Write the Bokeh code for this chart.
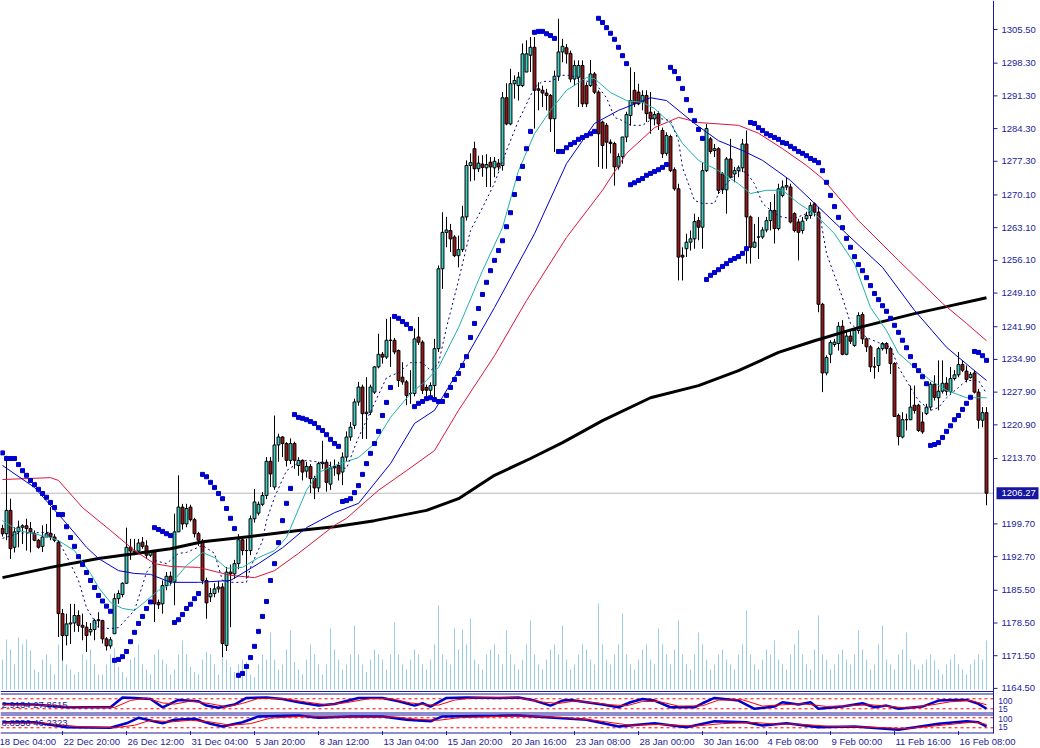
from bokeh.plotting import figure
from bokeh.models import Range1d, ColumnDataSource
from bokeh.core.properties import value
from bokeh.embed import file_html
from bokeh.resources import INLINE

# ---------------- price data (XAUUSD H4), one row per bar ----------------
opens = [1198.7,1197.6,1202.6,1194.7,1198.0,1199.0,1199.3,1198.7,1197.6,1196.2,
1194.9,1196.9,1197.7,1196.9,1195.8,1180.5,1175.8,1178.3,1178.5,1180.1,
1178.0,1177.6,1176.6,1177.1,1179.0,1179.0,1175.1,1173.6,1176.2,1183.7,
1184.6,1187.0,1194.7,1193.9,1193.9,1195.8,1195.0,1193.0,1193.7,1182.9,
1182.6,1186.5,1188.5,1187.3,1198.0,1203.3,1199.7,1203.3,1200.6,1197.6,
1196.0,1187.6,1184.1,1184.8,1185.8,1186.2,1173.7,1189.4,1189.0,1191.2,
1196.3,1194.0,1194.0,1200.8,1202.0,1203.9,1205.8,1213.1,1207.6,1216.6,
1218.3,1216.9,1213.3,1216.9,1212.2,1213.3,1211.0,1212.0,1209.4,1207.4,
1212.6,1212.9,1208.2,1211.7,1212.2,1210.8,1214.0,1218.3,1220.8,1225.8,
1229.0,1223.3,1223.6,1227.9,1233.3,1236.0,1235.4,1239.0,1239.0,1236.8,
1231.1,1230.1,1227.6,1227.6,1239.7,1238.6,1228.9,1228.3,1229.3,1237.2,
1254.3,1262.1,1262.5,1261.1,1257.1,1258.4,1265.4,1276.4,1280.0,1275.7,
1276.7,1275.9,1277.1,1275.9,1276.9,1276.4,1290.9,1285.3,1293.9,1293.5,
1293.5,1296.4,1300.0,1301.7,1292.8,1292.5,1291.9,1291.4,1286.4,1295.5,
1300.7,1301.6,1300.4,1294.9,1295.3,1297.8,1293.5,1293.5,1296.0,1292.1,
1285.7,1285.0,1281.4,1281.1,1276.1,1278.3,1282.5,1287.1,1292.5,1292.1,
1290.0,1291.4,1287.8,1286.4,1287.5,1283.9,1279.0,1282.6,1275.5,1271.4,
1257.2,1258.6,1260.0,1260.7,1264.6,1263.2,1275.3,1282.1,1279.6,1280.0,
1274.6,1271.2,1277.8,1274.6,1275.3,1275.9,1281.0,1265.4,1258.9,1261.1,
1261.1,1262.6,1264.6,1266.8,1262.9,1270.0,1271.8,1271.8,1266.1,1264.3,
1262.5,1265.0,1265.7,1268.2,1266.4,1246.7,1232.0,1236.0,1238.1,1238.3,
1242.0,1236.0,1239.9,1237.9,1241.1,1244.5,1239.3,1237.6,1233.3,1233.6,
1237.2,1238.3,1237.2,1234.0,1222.9,1218.3,1222.0,1222.0,1225.1,1225.1,
1221.5,1223.3,1224.7,1229.6,1226.7,1228.1,1229.8,1228.0,1230.8,1231.6,
1233.8,1232.4,1231.0,1232.0,1227.9,1221.9,1223.5]
highs = [1199.5,1214.3,1205.1,1199.0,1200.4,1199.6,1200.8,1200.1,1198.3,1196.5,
1199.4,1199.7,1203.3,1197.5,1196.2,1181.5,1180.5,1182.6,1182.6,1181.2,
1180.5,1178.7,1178.5,1179.4,1180.8,1179.2,1175.5,1175.5,1184.8,1185.5,
1187.2,1198.9,1196.5,1196.5,1196.5,1196.9,1196.2,1194.0,1194.0,1183.5,
1187.6,1189.4,1189.5,1201.9,1210.1,1204.0,1204.0,1203.8,1201.0,1198.0,
1196.5,1188.2,1186.0,1187.0,1187.5,1187.0,1190.5,1191.0,1192.0,1197.5,
1197.0,1196.5,1201.5,1207.2,1204.5,1206.5,1214.0,1214.0,1222.9,1219.0,
1218.5,1217.2,1218.0,1217.3,1214.0,1213.5,1213.0,1212.5,1210.0,1213.0,
1217.5,1213.5,1213.0,1213.5,1213.0,1215.0,1219.5,1221.5,1226.5,1230.1,
1229.5,1231.1,1229.5,1233.5,1240.4,1236.5,1243.6,1244.0,1239.5,1237.0,
1234.3,1230.5,1232.6,1241.5,1244.0,1239.0,1229.5,1230.0,1239.3,1255.0,
1266.4,1265.4,1263.9,1261.5,1261.4,1267.8,1277.5,1279.0,1281.5,1278.5,
1278.6,1278.8,1278.2,1278.2,1277.8,1292.1,1294.0,1297.1,1295.7,1296.4,
1302.5,1303.2,1303.9,1303.9,1294.2,1293.5,1292.8,1291.7,1296.7,1307.8,
1303.5,1302.4,1301.0,1298.9,1298.9,1298.9,1294.2,1299.0,1296.4,1292.5,
1286.0,1285.5,1282.0,1281.5,1279.0,1282.5,1287.9,1297.4,1296.4,1293.9,
1292.5,1292.5,1292.1,1288.0,1288.0,1284.5,1283.5,1283.0,1276.0,1272.5,
1258.9,1261.8,1262.5,1266.1,1265.4,1277.1,1285.3,1282.5,1281.0,1280.3,
1275.0,1278.2,1282.1,1276.1,1276.4,1282.1,1283.9,1265.7,1263.9,1265.4,
1263.2,1265.4,1268.6,1270.3,1272.5,1273.2,1273.9,1272.5,1266.4,1265.0,
1265.4,1266.5,1268.5,1268.5,1267.5,1247.0,1235.8,1239.0,1239.3,1242.9,
1243.3,1241.0,1241.0,1241.5,1245.0,1245.0,1239.6,1238.0,1235.4,1237.6,
1238.6,1238.6,1237.6,1234.3,1223.3,1223.6,1223.3,1229.3,1229.3,1225.4,
1223.6,1225.4,1230.1,1231.5,1234.7,1234.7,1231.1,1233.3,1232.6,1236.5,
1234.7,1233.6,1232.2,1232.6,1228.6,1224.7,1224.7]
lows = [1197.0,1196.2,1192.2,1193.6,1194.7,1195.4,1194.0,1193.6,1196.0,1194.4,
1193.7,1196.9,1196.2,1195.8,1175.5,1170.5,1173.7,1174.0,1176.6,1176.6,
1174.8,1172.3,1175.8,1174.8,1177.6,1174.1,1172.6,1173.0,1176.2,1182.6,
1184.0,1186.9,1192.0,1193.0,1193.7,1194.4,1192.2,1192.6,1178.7,1181.5,
1180.5,1185.5,1186.5,1182.3,1198.0,1198.5,1199.0,1200.2,1196.8,1195.0,
1186.8,1179.4,1183.0,1184.0,1185.0,1171.2,1172.5,1177.6,1188.0,1190.0,
1193.0,1188.0,1193.0,1200.0,1201.5,1203.5,1205.0,1207.6,1207.0,1213.0,
1214.0,1212.0,1212.5,1211.5,1210.0,1209.0,1209.6,1206.3,1205.0,1206.5,
1211.5,1206.6,1207.0,1210.0,1209.0,1208.0,1213.0,1217.5,1220.0,1225.0,
1217.9,1217.9,1223.0,1227.5,1233.0,1234.0,1235.0,1233.3,1236.0,1229.0,
1229.5,1225.1,1225.4,1227.0,1238.0,1227.5,1226.1,1226.6,1226.1,1236.5,
1250.0,1258.9,1257.9,1256.8,1254.6,1257.9,1264.6,1273.0,1273.2,1275.0,
1274.0,1271.8,1271.8,1273.9,1275.3,1275.3,1285.0,1285.0,1290.7,1290.3,
1293.2,1296.4,1296.4,1284.3,1288.2,1288.9,1288.2,1283.6,1279.3,1294.5,
1298.5,1298.2,1294.2,1293.5,1288.9,1288.9,1288.9,1293.2,1291.7,1276.1,
1275.7,1275.7,1279.0,1272.1,1275.5,1276.8,1281.4,1285.0,1288.9,1289.3,
1288.2,1285.7,1283.2,1285.0,1284.0,1278.0,1278.5,1275.0,1271.0,1251.8,
1251.8,1256.8,1258.2,1258.6,1260.4,1258.6,1275.0,1278.9,1278.2,1270.3,
1270.3,1266.1,1273.6,1272.8,1273.9,1275.0,1255.4,1255.4,1258.9,1256.4,
1260.7,1262.1,1262.5,1259.7,1262.5,1269.6,1271.1,1264.0,1262.1,1256.1,
1261.8,1264.5,1265.0,1265.5,1245.0,1227.9,1231.5,1234.1,1237.6,1236.8,
1235.8,1235.8,1238.2,1237.6,1240.4,1238.2,1236.5,1232.2,1230.8,1232.2,
1236.8,1236.1,1231.8,1222.6,1216.5,1218.0,1219.7,1221.9,1223.3,1219.4,
1219.0,1223.0,1224.0,1226.1,1224.0,1227.6,1227.2,1227.6,1230.4,1231.1,
1232.2,1230.0,1230.8,1227.6,1220.1,1220.4,1203.7]
closes = [1197.6,1202.6,1194.4,1198.0,1199.0,1199.3,1198.7,1198.0,1196.2,1194.7,
1196.9,1197.6,1196.9,1196.2,1180.5,1175.8,1178.3,1178.5,1180.1,1178.0,
1177.6,1175.8,1177.1,1179.0,1179.2,1175.1,1173.6,1174.9,1183.7,1184.8,
1187.0,1194.7,1193.9,1193.7,1195.6,1194.9,1193.0,1193.7,1182.6,1182.4,
1186.5,1188.5,1187.3,1198.0,1203.3,1199.7,1203.0,1200.6,1197.6,1196.2,
1187.6,1182.8,1184.8,1185.8,1186.2,1174.1,1189.4,1189.0,1191.2,1196.3,
1194.0,1194.0,1200.8,1204.4,1203.9,1205.8,1213.1,1210.4,1216.6,1218.3,
1216.9,1213.3,1216.9,1213.3,1213.3,1210.8,1212.0,1209.4,1207.4,1212.6,
1212.9,1208.6,1211.7,1212.0,1210.4,1214.0,1218.3,1220.4,1225.8,1229.0,
1223.3,1223.6,1229.0,1233.3,1236.0,1235.4,1239.0,1239.0,1236.5,1230.4,
1230.1,1227.2,1227.6,1239.3,1238.6,1228.3,1228.3,1229.3,1237.2,1254.3,
1262.1,1262.6,1260.7,1257.1,1258.4,1265.4,1276.4,1277.0,1275.7,1276.9,
1276.0,1276.6,1276.1,1277.3,1276.1,1290.9,1285.3,1293.9,1294.6,1295.3,
1300.3,1300.3,1301.7,1292.5,1292.5,1291.9,1291.4,1286.4,1295.5,1300.7,
1301.9,1300.3,1294.9,1297.8,1297.8,1289.6,1289.6,1296.0,1292.1,1283.2,
1280.7,1281.4,1281.1,1276.1,1278.3,1282.5,1287.3,1290.3,1289.6,1289.6,
1291.4,1287.5,1286.4,1287.3,1285.3,1278.9,1282.8,1275.3,1271.4,1256.8,
1256.8,1260.0,1260.7,1264.4,1263.2,1275.3,1284.3,1279.4,1280.0,1271.1,
1271.2,1277.8,1273.9,1275.3,1275.9,1281.0,1265.4,1258.9,1260.0,1261.1,
1262.6,1264.6,1266.8,1262.9,1271.4,1271.8,1272.1,1264.3,1262.5,1262.1,
1264.5,1265.7,1267.8,1266.4,1246.7,1232.0,1235.3,1238.5,1238.6,1242.0,
1236.0,1239.9,1238.8,1241.1,1244.3,1239.3,1237.6,1233.3,1233.3,1237.2,
1238.3,1237.2,1234.0,1222.7,1218.4,1222.0,1222.0,1224.7,1224.0,1219.7,
1219.4,1224.7,1229.6,1226.8,1228.1,1229.8,1228.1,1230.8,1231.6,1233.8,
1232.6,1230.6,1231.7,1227.9,1221.9,1223.5,1206.27]
volumes = [600,1000,800,500,1040,900, 1000,780,400,350,600,700, 500,300,900,860,500,400,
300,350,700,600,800,500, 300,300,500,700,820,450, 350,250,600,650,900,500,
400,300,700,800,600,500, 300,400,700,980,700,450, 350,300,600,750,700,500,
300,760,600,450,350,500, 600,550,300,250,500,700, 600,1140,600,400,500,800,
1180,550,400,300,600,900, 700,500,300,500,1220,800, 600,400,500,700,1280,700,
500,350,600,800,700,600, 400,700,1340,700,500,400, 600,800,700,500,400,600,
900,1680,700,600,500,1220, 800,1200,900,1420,600,500, 400,700,800,900,700,500,
1180,700,500,400,600,900, 1380,700,500,400,600,800, 900,700,1280,600,400,500,
700,900,800,600,500,1720, 900,600,500,700,900,1520, 700,500,400,600,800,900,
600,500,1220,900,700,500, 800,1380,700,500,400,700, 1140,900,600,400,500,700,
800,600,500,400,700,900, 1580,700,500,400,600,800, 700,980,600,500,400,700,
900,1180,700,500,400,800, 1480,700,600,400,500,700, 800,600,500,700,1180,800,
600,400,500,900,1280,600, 500,400,700,800,1140,600, 500,400,500,600,700,580,
400,300,500,600,700,500, 400,300,500,600,700,600, 980]
# Parabolic SAR, one value per bar
sar = [1214.9,1213.7,1213.7,1213.7,1212.4,1211.1,1210.1,1209.0,1208.1,1207.1,
1206.2,1205.4,1204.3,1203.2,1201.7,1201.7,1199.1,1196.8,1194.9,1192.7,
1191.0,1189.3,1187.6,1186.1,1184.4,1183.2,1182.1,1181.0,1170.5,1170.7,
1171.3,1172.4,1174.5,1176.5,1178.4,1179.9,1181.6,1183.0,1198.9,1198.5,
1198.1,1197.6,1197.2,1178.6,1179.2,1180.3,1181.6,1182.5,1183.7,1184.8,
1210.3,1209.8,1208.6,1207.5,1206.2,1205.1,1203.0,1200.9,1198.7,1167.3,
1167.7,1169.2,1171.1,1173.5,1176.7,1179.9,1183.1,1187.6,1191.2,1195.7,
1200.4,1204.1,1207.3,1223.1,1222.5,1222.3,1222.0,1221.6,1221.2,1220.3,
1219.7,1218.8,1217.8,1216.9,1216.3,1204.5,1204.7,1205.1,1206.4,1207.9,
1210.3,1212.6,1214.8,1216.9,1219.5,1222.9,1225.7,1228.9,1244.1,1243.7,
1243.0,1242.4,1241.5,1224.8,1225.5,1225.9,1226.5,1226.7,1226.3,1225.9,
1225.9,1227.2,1228.9,1230.6,1231.9,1233.6,1235.5,1239.6,1242.6,1245.8,
1248.8,1251.4,1253.9,1256.1,1258.2,1260.3,1263.3,1266.3,1270.2,1273.6,
1276.2,1280.0,1283.7,1304.9,1305.1,1305.1,1304.6,1304.2,1303.6,1279.4,
1279.4,1280.2,1280.9,1281.3,1282.0,1282.4,1282.8,1283.2,1283.7,1307.9,
1307.0,1305.9,1304.7,1303.4,1301.7,1299.9,1298.2,1272.3,1272.7,1273.2,
1273.6,1274.3,1274.7,1275.1,1275.5,1276.0,1276.6,1297.4,1296.5,1295.0,
1292.9,1290.5,1288.2,1286.0,1284.1,1282.2,1252.0,1252.9,1253.5,1254.1,
1254.8,1255.4,1256.1,1256.5,1256.9,1257.6,1258.6,1285.6,1285.4,1284.5,
1283.9,1283.2,1282.8,1282.4,1282.0,1281.3,1281.1,1280.5,1280.0,1279.4,
1279.0,1278.5,1277.9,1277.5,1277.0,1275.3,1272.8,1270.0,1267.6,1265.3,
1263.1,1260.8,1258.9,1256.9,1255.2,1253.9,1252.4,1250.7,1249.0,1247.7,
1246.4,1245.2,1243.7,1242.2,1240.7,1239.0,1237.4,1235.5,1233.6,1232.5,
1231.2,1229.7,1216.5,1216.7,1217.1,1218.2,1219.5,1220.7,1222.0,1222.9,
1224.2,1225.5,1226.8,1236.6,1236.4,1235.7,1234.7]

# moving averages read at sample bars
ma_black_x = [0,12,24,37,42,50,62,74,83,93,106,114,123,132,140,150,162,174,184,194,203,214,228,236,246]
ma_black = [1188.2,1190.4,1192.3,1193.8,1194.4,1195.9,1197.0,1198.3,1199.1,1200.4,1202.6,1205.1,1210.1,
            1213.7,1217.1,1221.8,1226.7,1229.3,1232.5,1236.4,1238.9,1241.7,1244.7,1246.2,1248.1]
ma_red_x = [0,12,14,20,27,33,38,42,49,57,63,68,74,83,86,94,101,108,114,123,131,141,150,156,163,169,174,184,
            189,195,201,205,214,224,235,241,246]
ma_red = [1209.2,1209.6,1209.0,1203.2,1198.3,1194.0,1191.2,1190.6,1190.4,1188.7,1188.2,1189.7,1193.4,1199.4,
          1200.9,1206.9,1211.1,1215.4,1224.0,1235.7,1247.5,1261.0,1271.1,1279.0,1284.5,1286.7,1285.6,1285.0,
          1283.3,1280.0,1276.4,1273.6,1264.6,1256.1,1246.9,1242.6,1238.9]
ma_blue_x = [0,8,16,21,24,29,33,37,42,49,57,64,70,76,83,89,97,103,108,114,123,133,141,148,154,162,166,173,
             179,185,190,197,203,211,220,228,236,242,246]
ma_blue = [1212.2,1207.5,1199.8,1194.7,1192.3,1189.7,1189.1,1188.9,1187.2,1187.2,1187.6,1191.2,1194.6,1198.9,
           1202.1,1204.1,1212.6,1221.2,1224.0,1232.5,1246.0,1261.8,1276.8,1285.4,1288.2,1290.9,1290.3,1285.4,
           1281.7,1279.6,1277.5,1273.2,1268.3,1261.8,1254.6,1245.4,1237.5,1233.2,1230.4]
ma_cyan_x = [0,4,12,14,18,22,24,27,30,33,36,39,42,46,50,53,56,60,64,68,71,76,79,83,89,93,97,102,106,109,114,
             120,125,129,133,137,141,146,148,152,156,160,163,167,170,174,179,184,187,191,195,199,203,208,213,
             217,221,224,228,232,236,241,246]
ma_cyan = [1200.4,1198.3,1196.8,1196.1,1194.0,1189.1,1186.1,1182.9,1181.6,1181.2,1183.3,1185.5,1186.7,1190.8,
           1193.6,1192.5,1190.2,1190.4,1192.5,1194.0,1196.8,1206.9,1210.7,1212.2,1213.9,1216.9,1222.5,1227.6,
           1230.4,1233.2,1241.7,1253.9,1263.1,1275.3,1283.2,1288.2,1292.5,1295.2,1295.0,1292.0,1290.3,1289.9,
           1288.6,1285.4,1281.1,1277.5,1275.3,1272.5,1270.4,1271.1,1271.1,1268.3,1266.1,1261.8,1255.4,1246.0,
           1241.1,1236.2,1233.2,1230.4,1228.3,1226.7,1226.7]
ma_dash_x = [0,4,12,14,16,19,21,24,27,29,33,36,38,41,44,46,50,53,55,57,61,62,65,66,68,71,74,76,80,83,86,89,
             93,96,99,102,105,107,109,111,114,117,120,123,126,129,133,135,137,140,142,145,148,151,153,155,157,
             160,163,167,169,170,173,175,178,179,181,184,186,188,190,193,195,198,201,204,206,210,212,216,219,
             222,224,227,229,232,234,236,239,241,244,246]
ma_dash = [1196.6,1197.7,1197.9,1196.1,1192.9,1187.6,1181.8,1177.5,1177.3,1177.5,1181.2,1189.3,1191.9,1191.2,
           1193.4,1193.6,1195.1,1193.4,1187.6,1187.2,1187.2,1190.4,1196.1,1200.4,1205.4,1211.1,1212.8,1213.3,
           1212.8,1211.8,1211.6,1218.2,1225.5,1231.0,1232.1,1234.2,1234.2,1232.5,1234.0,1241.7,1251.8,1262.5,
           1267.4,1272.6,1279.6,1286.0,1293.1,1294.4,1294.4,1295.7,1295.7,1294.6,1294.2,1290.9,1286.7,1286.0,
           1285.0,1285.0,1286.7,1286.0,1281.7,1276.0,1268.9,1268.3,1268.3,1270.4,1272.5,1275.3,1274.9,1272.5,
           1268.3,1266.1,1265.3,1265.1,1266.1,1267.4,1257.6,1248.1,1242.6,1239.6,1238.5,1237.5,1233.2,1228.9,
           1226.1,1224.0,1224.6,1226.7,1228.9,1230.4,1230.4,1227.6]

# stochastic sub-windows (main %K and signal), read at sample bars
st1_x = [0,8,16,27,30,33,37,40,44,49,51,54,58,61,66,70,74,79,83,89,95,99,103,105,107,111,116,124,129,133,
         137,140,142,146,150,154,157,160,163,167,173,175,178,184,188,193,195,199,202,204,210,215,218,221,224,
         230,234,238,241,244,246]
st1_k = [49,45,29,29,88,85,79,29,73,65,39,26,45,85,88,79,59,39,49,85,85,65,39,53,33,85,88,85,88,69,
         39,69,73,59,45,29,59,79,69,29,29,53,85,69,20,33,59,45,59,20,33,53,29,39,20,33,69,73,73,49,20]
st1_dx = [0,10,20,28,32,36,40,43,47,52,56,60,64,70,76,81,86,92,97,102,106,109,113,118,129,135,139,143,148,152,
          156,160,164,169,175,179,185,190,195,200,206,212,217,222,226,232,237,242,246]
st1_d = [44,42,30,28,70,84,55,48,66,50,32,52,82,82,60,44,57,82,80,55,44,42,72,86,86,60,52,66,56,44,
         38,64,64,36,38,72,74,36,44,50,34,38,44,34,24,42,62,70,44]
st2_x = [0,8,16,27,31,34,40,43,48,52,55,60,64,74,79,87,95,101,107,110,124,129,138,146,154,163,171,178,186,190,
         196,204,213,224,234,241,244,246]
st2_k = [53,53,23,20,47,80,47,68,74,44,28,53,88,94,80,88,88,68,59,88,92,94,80,68,28,47,23,59,53,34,
         47,23,28,8,44,59,53,28]
st2_dx = [0,10,20,28,33,37,42,47,52,57,62,67,76,82,90,98,104,109,114,126,132,140,148,157,165,173,180,188,193,199,
          206,215,226,236,243,246]
st2_d = [50,48,25,20,35,65,55,65,55,35,45,78,90,85,85,85,70,65,80,90,90,82,65,35,40,30,45,52,42,42,
         30,25,15,38,55,40]
st_levels = [80, 20]
st_scale_labels = ["100", "15"]

price_ticks = [1305.5,1298.3,1291.3,1284.3,1277.3,1270.1,1263.1,1256.1,1249.1,1241.9,1234.9,1227.9,
               1220.9,1213.7,1199.7,1192.7,1185.5,1178.5,1171.5,1164.5]
last_price = 1206.27
time_bars = [-1,15,31,47,63,79,95,111,127,143,159,175,191,207,223,239]
time_labels = ["18 Dec 04:00","22 Dec 20:00","26 Dec 12:00","31 Dec 04:00","5 Jan 20:00","8 Jan 12:00",
               "13 Jan 04:00","15 Jan 20:00","20 Jan 16:00","23 Jan 08:00","28 Jan 00:00","30 Jan 16:00",
               "4 Feb 08:00","9 Feb 00:00","11 Feb 16:00","16 Feb 08:00"]
st1_text = "2.9134 27.8615"
st2_text = "8.8556 46.2323"

# ---------------- styling ----------------
FONT = "Liberation Sans"
NAVY = "#1c1c9c"
BULL = "#3fd0c4"
BEAR = "#9a1616"
VOL = "#9ccbe8"
AX = 247.75           # bar position of the terminal's price scale line
XL, XR = -0.5, 259.5  # visible bar span of the window

n = len(closes)
xs = list(range(n))
src = ColumnDataSource(dict(
    x=xs, h=highs, l=lows,
    top=[max(o, c) for o, c in zip(opens, closes)],
    bottom=[min(o, c) for o, c in zip(opens, closes)],
    color=[BULL if c >= o else BEAR for o, c in zip(opens, closes)],
))

p = figure(width=1040, height=748, x_range=Range1d(XL, XR), y_range=Range1d(1151.64, 1311.71),
           x_axis_location=None, y_axis_location=None, output_backend="svg", toolbar_location=None,
           min_border_left=0, min_border_top=0, min_border_bottom=0, min_border_right=0,
           background_fill_color="white", border_fill_color="white", outline_line_color=None)
# window rows (px), volume ticks and the two stochastic sub-windows share the x scale
p.extra_y_ranges = {"px": Range1d(748, 0), "vol": Range1d(-1180, 13780),
                    "st1": Range1d(-218.4, 4269.6), "st2": Range1d(-104.4, 4383.6)}
p.xgrid.visible = False
p.ygrid.visible = False

# volumes
p.segment(x0=xs, y0=[0] * n, x1=xs, y1=volumes, y_range_name="vol", line_color=VOL, line_width=1)

# last price line
p.segment(x0=[XL], y0=[last_price], x1=[AX], y1=[last_price], line_color="#b8b8b8", line_width=1)

# candles
p.segment(x0="x", y0="l", x1="x", y1="h", source=src, line_color="black", line_width=1)
p.vbar(x="x", width=0.72, top="top", bottom="bottom", fill_color="color", line_color="black",
       line_width=1, source=src)

# moving averages
p.line(ma_black_x, ma_black, line_color="black", line_width=3)
p.line(ma_red_x, ma_red, line_color="#dc143c", line_width=1)
p.line(ma_blue_x, ma_blue, line_color="#0000cd", line_width=1)
p.line(ma_cyan_x, ma_cyan, line_color="#20b2aa", line_width=1)
p.line(ma_dash_x, ma_dash, line_color="#00008b", line_width=1, line_dash="2 3")

# parabolic SAR
p.scatter(xs, sar, marker="square", size=4, fill_color="#0000cd", line_color="#0000cd")

# sub-window frames
rows = [691, 693.5, 712.5, 714.5, 732.5]
p.segment(x0=[XL] * len(rows), y0=rows, x1=[AX] * len(rows), y1=rows, y_range_name="px",
          line_color=NAVY, line_width=1)

for rng, kx, kv, dx, dv, txt, ty in [("st1", st1_x, st1_k, st1_dx, st1_d, st1_text, 704),
                                       ("st2", st2_x, st2_k, st2_dx, st2_d, st2_text, 722)]:
    p.segment(x0=[XL] * 2, y0=st_levels, x1=[AX] * 2, y1=st_levels, y_range_name=rng,
              line_color="#ff0000", line_width=1, line_dash="3 3")
    p.line(kx, kv, y_range_name=rng, line_color="#0000cd", line_width=2.5)
    p.line(dx, dv, y_range_name=rng, line_color="#ff0000", line_width=1)
    p.text(x=[XL], y=[ty], text=[txt], y_range_name="px", x_offset=1, text_baseline="middle",
           text_font=value(FONT), text_font_size="9.5px", text_color=NAVY)
    p.text(x=[AX + 1.2] * 2, y=[ty - 4, ty + 4], text=st_scale_labels, y_range_name="px",
           text_baseline="middle", text_font=value(FONT), text_font_size="8.5px", text_color=NAVY)

# price scale, terminal style
p.segment(x0=[AX], y0=[0], x1=[AX], y1=[733], y_range_name="px", line_color=NAVY, line_width=1)
p.segment(x0=[AX] * len(price_ticks), y0=price_ticks, x1=[AX + 1] * len(price_ticks), y1=price_ticks,
          line_color=NAVY, line_width=1)
p.text(x=[AX + 2] * len(price_ticks), y=price_ticks, text=["%.2f" % t for t in price_ticks],
       text_baseline="middle", text_align="left", text_font=value(FONT), text_font_size="9.5px",
       text_color=NAVY)
# current price tag
p.rect(x=[AX + 6], y=[last_price], width=10.5, height=2.6, fill_color="#1616a0", line_color=None)
p.text(x=[AX + 2], y=[last_price], text=["%.2f" % last_price], text_baseline="middle", text_align="left",
       text_font=value(FONT), text_font_size="9.5px", text_color="white")

# time scale: labels start at their tick
nt = len(time_bars)
p.segment(x0=time_bars, y0=[730.5] * nt, x1=time_bars, y1=[734.5] * nt, y_range_name="px",
          line_color=NAVY, line_width=1)
p.text(x=time_bars, y=[741] * nt, text=time_labels, y_range_name="px", x_offset=1,
       text_baseline="middle", text_align="left", text_font=value(FONT), text_font_size="9.5px",
       text_color=NAVY)

open("out.html", "w").write(file_html(p, INLINE))
